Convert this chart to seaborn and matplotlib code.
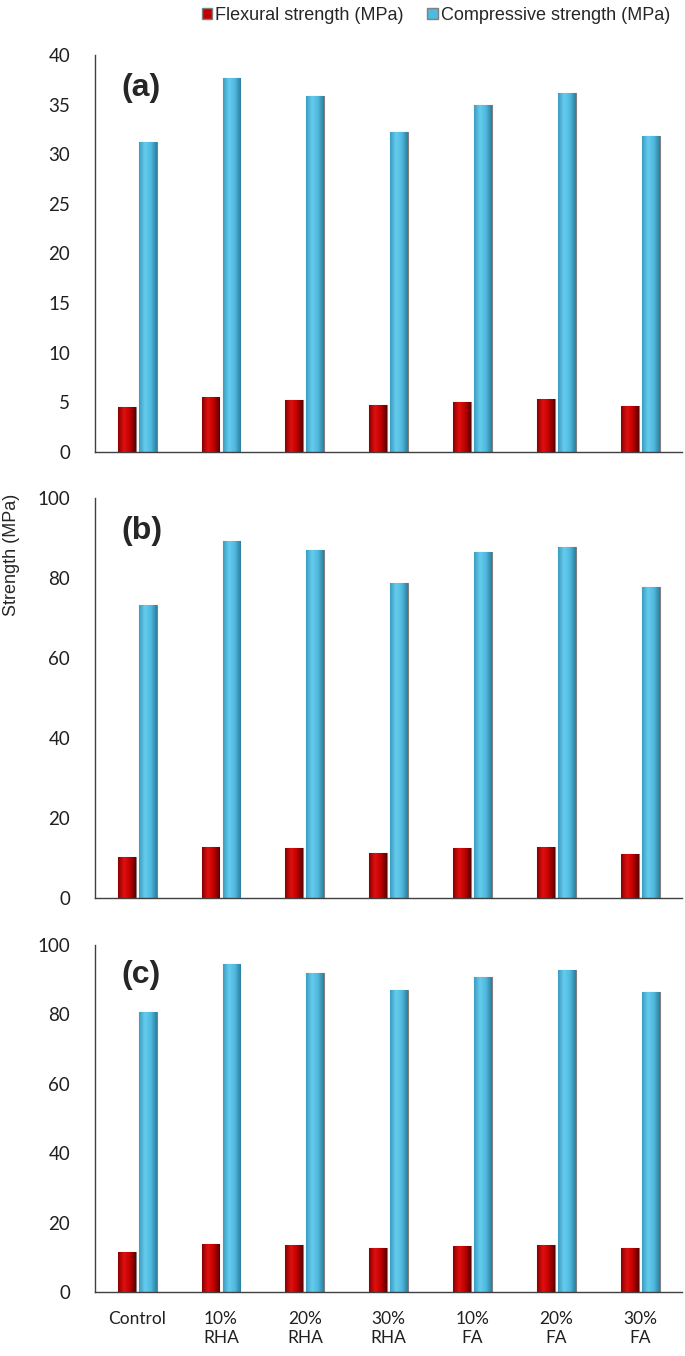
import pandas as pd
import numpy as np
import matplotlib.pyplot as plt
import seaborn as sns
from matplotlib.patches import Patch
from matplotlib.colors import LinearSegmentedColormap

# mix labels
mixes = ["Control", "10%\nRHA", "20%\nRHA", "30%\nRHA", "10%\nFA", "20%\nFA", "30%\nFA"]

# (a)
flex_a = [4.5, 5.5, 5.2, 4.7, 5.0, 5.3, 4.6]
comp_a = [31.2, 37.7, 35.9, 32.2, 35.0, 36.2, 31.8]
# (b)
flex_b = [10.3, 12.8, 12.5, 11.2, 12.4, 12.7, 10.9]
comp_b = [73.3, 89.2, 87.0, 78.8, 86.6, 87.8, 77.7]
# (c)
flex_c = [11.6, 13.8, 13.5, 12.7, 13.3, 13.5, 12.7]
comp_c = [80.6, 94.5, 92.0, 87.1, 90.7, 92.8, 86.5]

series = ["Flexural strength (MPa)", "Compressive strength (MPa)"]
red = "#C00000"
blue = "#4FB9DE"

def make_df(flex, comp):
    df = pd.DataFrame({"Mix": mixes * 2,
                       "Strength": flex + comp,
                       "Type": [series[0]] * 7 + [series[1]] * 7})
    return df

panels = [("(a)", make_df(flex_a, comp_a), 40, 5),
          ("(b)", make_df(flex_b, comp_b), 100, 20),
          ("(c)", make_df(flex_c, comp_c), 100, 20)]

# axes boxes in figure fraction (left, bottom, width, height)
boxes = [[0.139, 0.6667, 0.857, 0.2928],
         [0.139, 0.3378, 0.857, 0.2950],
         [0.139, 0.0472, 0.857, 0.2560]]

sns.set_style("white")
plt.rcParams['font.family'] = ['Lato', 'DejaVu Sans']

fig = plt.figure(figsize=(6.85, 13.56), dpi=100)

cmap_red = LinearSegmentedColormap.from_list("r", ["#8B0000", "#E01010", "#C00000", "#5A0000"])
cmap_blue = LinearSegmentedColormap.from_list("b", ["#3A9CC0", "#66CCEE", "#4FB9DE", "#2E7E9E"])

for (tag, df, ymax, step), box in zip(panels, boxes):
    ax = fig.add_axes(box)
    sns.barplot(ax=ax, data=df, x="Mix", y="Strength", hue="Type",
                palette=[red, blue], width=0.5, gap=0.15, legend=False,
                edgecolor="#808080", linewidth=0.8)
    # shaded bevel look on each bar
    for p in list(ax.patches):
        x0, y0 = p.get_x(), p.get_y()
        w, h = p.get_width(), p.get_height()
        cm = cmap_red if p.get_facecolor()[0] > 0.6 else cmap_blue
        grad = np.linspace(0, 1, 64).reshape(1, -1)
        im = ax.imshow(grad, cmap=cm, aspect="auto",
                       extent=(x0, x0 + w, y0, y0 + h), zorder=p.get_zorder() + 0.1)
        im.set_clip_path(p)
    ax.set_xlim(-0.5, 6.5)
    ax.set_ylim(0, ymax)
    ax.set_yticks(np.arange(0, ymax + 1, step))
    ax.set_xlabel("")
    ax.set_ylabel("")
    for s in ["top", "right"]:
        ax.spines[s].set_visible(False)
    for s in ["left", "bottom"]:
        ax.spines[s].set_color("#404040")
        ax.spines[s].set_linewidth(1.0)
    ax.tick_params(axis="y", length=0, pad=18, labelsize=13.5, labelcolor="#202020")
    ax.tick_params(axis="x", length=0, pad=14, labelsize=12.5, labelcolor="#202020")
    if tag != "(c)":
        ax.set_xticklabels([])
    ax.text(0.045, 0.955, tag, transform=ax.transAxes, fontsize=23, fontweight="bold",
            family=["Liberation Sans Narrow", "Liberation Sans"], va="top", ha="left")

fig.text(0.017, 0.591, "Strength (MPa)", rotation=90, fontsize=13,
         family="Liberation Sans", va="center", ha="center")

handles = [Patch(facecolor=red, edgecolor="#808080"), Patch(facecolor=blue, edgecolor="#808080")]
fig.legend(handles, series, loc="upper center", bbox_to_anchor=(0.636, 1.007), ncol=2,
           frameon=False, prop={"family": "Liberation Sans", "size": 13},
           handlelength=0.6, handleheight=0.6, handletextpad=0.15, columnspacing=1.3)

fig.savefig("out.png", dpi=100)
